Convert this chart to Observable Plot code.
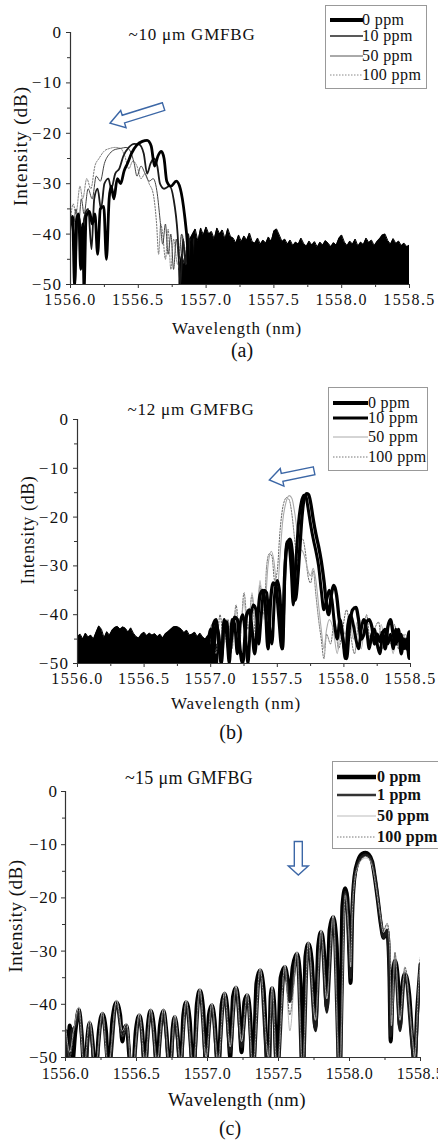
<!DOCTYPE html>
<html><head><meta charset="utf-8">
<script src="https://cdn.jsdelivr.net/npm/d3@7"></script>
<script src="https://cdn.jsdelivr.net/npm/@observablehq/plot@0.6"></script>
<style>
body{margin:0;background:#fff;}
#root{position:relative;width:438px;height:1140px;overflow:hidden;font-family:"Liberation Serif",serif;color:#111;}
.t{position:absolute;white-space:nowrap;line-height:1;transform:translate(-50%,-50%);}
.yl{position:absolute;white-space:nowrap;line-height:1;transform:translate(-50%,-50%) rotate(-90deg);}
.pl{position:absolute;left:0;}
.lg{position:absolute;}
</style></head><body><div id="root"></div>
<script>
// ---------- axes ----------
const xMajor = [1556.0, 1556.5, 1557.0, 1557.5, 1558.0, 1558.5];
const xMinor = [1556.25, 1556.75, 1557.25, 1557.75, 1558.25];
const yMajor = [0, -10, -20, -30, -40, -50];
const yMinor = [-5, -15, -25, -35, -45];
const floorDb = -50;
const noiseStep = 0.02;

// ---------- panel (a) ~10 um GMFBG ----------
const a_0ppm = [[1556.00,-38],[1556.015,-36.5],[1556.03,-50],[1556.045,-37],[1556.06,-36],[1556.075,-47],[1556.09,-38],[1556.10,-51],[1556.115,-36.5],[1556.14,-35.5],[1556.16,-38],[1556.18,-36],[1556.20,-44],[1556.22,-35],[1556.245,-34.5],[1556.265,-45],[1556.285,-33],[1556.30,-30.5],[1556.32,-33],[1556.345,-29],[1556.37,-30],[1556.395,-27.5],[1556.42,-26],[1556.45,-24],[1556.49,-22.3],[1556.53,-21.6],[1556.565,-21.4],[1556.595,-22.5],[1556.62,-26.5],[1556.645,-24.5],[1556.67,-23.6],[1556.69,-25],[1556.71,-29.5],[1556.74,-30.5],[1556.78,-29.5],[1556.81,-31],[1556.84,-36],[1556.865,-43],[1556.88,-51],[1556.895,-42],[1556.91,-50],[1556.925,-41]];
const a_10ppm = [[1556.00,-37],[1556.02,-40],[1556.035,-50],[1556.05,-38],[1556.07,-37],[1556.085,-47],[1556.10,-37],[1556.13,-35],[1556.155,-43],[1556.175,-33],[1556.20,-31],[1556.225,-35],[1556.25,-30],[1556.28,-29],[1556.30,-31],[1556.33,-28],[1556.36,-27],[1556.39,-24.5],[1556.43,-22.8],[1556.47,-22.1],[1556.505,-22.2],[1556.54,-24],[1556.565,-28],[1556.59,-26],[1556.615,-25],[1556.64,-26.5],[1556.66,-30],[1556.69,-31],[1556.73,-30.5],[1556.76,-33],[1556.79,-40],[1556.81,-50],[1556.83,-41],[1556.85,-46],[1556.87,-40],[1556.89,-48],[1556.91,-41]];
const a_50ppm = [[1556.00,-36],[1556.02,-39],[1556.04,-35],[1556.06,-38],[1556.08,-33],[1556.10,-36],[1556.13,-31],[1556.16,-33],[1556.19,-28.5],[1556.22,-29.5],[1556.25,-26],[1556.29,-24],[1556.33,-23.2],[1556.37,-23],[1556.41,-22.8],[1556.44,-23.5],[1556.47,-26],[1556.49,-28.5],[1556.52,-26.5],[1556.55,-28],[1556.58,-29.5],[1556.61,-29],[1556.64,-32],[1556.66,-37],[1556.68,-42],[1556.70,-38],[1556.72,-44],[1556.74,-40],[1556.76,-47],[1556.78,-41],[1556.80,-45],[1556.82,-40],[1556.85,-46],[1556.88,-41]];
const a_100ppm = [[1556.00,-37],[1556.02,-34],[1556.04,-36],[1556.07,-30.5],[1556.09,-33],[1556.12,-29],[1556.15,-31],[1556.18,-26.5],[1556.21,-25],[1556.25,-23.5],[1556.29,-23],[1556.33,-22.8],[1556.37,-23],[1556.40,-24.5],[1556.43,-27],[1556.46,-25.5],[1556.49,-26.5],[1556.52,-29],[1556.55,-28],[1556.58,-30],[1556.61,-32],[1556.635,-38],[1556.65,-44],[1556.665,-38],[1556.68,-40],[1556.70,-45],[1556.72,-39],[1556.74,-47],[1556.76,-41],[1556.79,-46],[1556.82,-40],[1556.85,-44]];
const a_noiseStart = 1556.80;
const a_noiseTop = [-47,-44,-46,-42.5,-41,-40,-39,-41.5,-38.8,-40.2,-38.6,-40,-39.5,-41,-38.8,-40,-39.2,-41,-38.9,-40.5,-40.8,-41.8,-40.2,-41.5,-40.4,-41.2,-39.8,-41.5,-41.8,-40.8,-42,-41.2,-41.8,-40.6,-41.5,-39.4,-39,-40.2,-41.5,-41,-42,-41.2,-42.3,-41.6,-42,-40.8,-41.9,-42.4,-41.4,-42.2,-41.5,-42.6,-41.6,-42.2,-41.3,-41.8,-42.5,-41.7,-42.2,-40.8,-40.2,-41.6,-42.3,-41.4,-42,-41,-42.4,-41.6,-42.1,-40.8,-41.7,-41.2,-42.3,-41.5,-40.9,-40.2,-40,-41.3,-42,-40.9,-41.9,-41.4,-42.3,-41.8,-42.5,-42.2];
const a_arrow = [{x1: 1556.69, y1: -14.8, x2: 1556.295, y2: -18.1}];

// ---------- panel (b) ~12 um GMFBG ----------
const b_0ppm = [[1556.98,-45],[1557.00,-49],[1557.02,-42],[1557.04,-41],[1557.06,-46],[1557.08,-50],[1557.10,-42],[1557.12,-41.5],[1557.14,-48],[1557.16,-44],[1557.18,-40.5],[1557.20,-41],[1557.22,-47],[1557.24,-50],[1557.27,-40],[1557.29,-39],[1557.31,-43],[1557.33,-48],[1557.35,-42],[1557.37,-36],[1557.39,-35],[1557.41,-38],[1557.43,-47],[1557.45,-37],[1557.47,-33.5],[1557.49,-34],[1557.51,-40],[1557.535,-47],[1557.555,-32],[1557.575,-25.5],[1557.595,-24.5],[1557.615,-28],[1557.635,-37],[1557.655,-32],[1557.67,-26],[1557.685,-20],[1557.70,-16.5],[1557.72,-15.2],[1557.735,-15.4],[1557.75,-17],[1557.77,-20.5],[1557.79,-23.5],[1557.81,-26],[1557.83,-29],[1557.85,-33],[1557.87,-38],[1557.885,-40],[1557.905,-36],[1557.925,-34],[1557.945,-36],[1557.965,-41],[1557.985,-44],[1558.005,-47],[1558.02,-49],[1558.04,-43],[1558.065,-39],[1558.09,-38.5],[1558.11,-41],[1558.13,-45],[1558.15,-44],[1558.17,-41.5],[1558.19,-41],[1558.21,-42.5],[1558.23,-46],[1558.25,-44],[1558.27,-45.5],[1558.29,-43.5],[1558.31,-47],[1558.33,-42.5],[1558.35,-41],[1558.37,-44],[1558.39,-46],[1558.41,-43],[1558.43,-48],[1558.45,-45],[1558.47,-47],[1558.49,-43.5],[1558.50,-46]];
const b_10ppm = [[1556.98,-46],[1557.00,-43],[1557.02,-48],[1557.04,-42],[1557.06,-44],[1557.08,-49],[1557.10,-41],[1557.12,-44],[1557.14,-50],[1557.16,-41],[1557.18,-42],[1557.20,-48],[1557.22,-42],[1557.24,-40],[1557.26,-44],[1557.28,-50],[1557.30,-41],[1557.32,-38],[1557.34,-39],[1557.36,-46],[1557.38,-40],[1557.40,-35],[1557.42,-35.5],[1557.44,-42],[1557.46,-46],[1557.48,-36],[1557.50,-33],[1557.52,-36],[1557.54,-47],[1557.56,-29],[1557.575,-25],[1557.59,-26],[1557.605,-31],[1557.62,-38],[1557.64,-29],[1557.66,-21],[1557.68,-17],[1557.70,-15.5],[1557.715,-15.8],[1557.73,-18],[1557.75,-21.5],[1557.77,-24.5],[1557.79,-27],[1557.81,-30],[1557.83,-35],[1557.85,-39],[1557.87,-37],[1557.89,-35],[1557.91,-37],[1557.93,-42],[1557.95,-45],[1557.97,-41],[1557.99,-44],[1558.01,-49],[1558.03,-42],[1558.05,-40],[1558.07,-42],[1558.09,-45],[1558.11,-47],[1558.13,-43],[1558.15,-41],[1558.17,-43],[1558.19,-47],[1558.21,-44],[1558.23,-43],[1558.25,-46],[1558.27,-48],[1558.29,-44],[1558.31,-43],[1558.33,-46],[1558.35,-44],[1558.37,-47],[1558.39,-43],[1558.41,-45],[1558.43,-44],[1558.45,-47],[1558.47,-45],[1558.49,-49],[1558.50,-46]];
const b_50ppm = [[1556.98,-44],[1557.02,-47],[1557.05,-42],[1557.09,-48],[1557.12,-41],[1557.16,-46],[1557.19,-39],[1557.22,-44],[1557.25,-37],[1557.28,-45],[1557.31,-35.5],[1557.34,-43],[1557.37,-33],[1557.40,-41],[1557.43,-30],[1557.455,-27],[1557.475,-29],[1557.50,-35],[1557.52,-28],[1557.54,-21],[1557.565,-17],[1557.59,-15.6],[1557.61,-16.2],[1557.63,-19],[1557.65,-23],[1557.67,-26.5],[1557.69,-27],[1557.71,-28.5],[1557.73,-31],[1557.75,-32],[1557.77,-30.5],[1557.79,-33],[1557.81,-38],[1557.83,-43],[1557.85,-47],[1557.87,-43],[1557.89,-41],[1557.92,-43],[1557.95,-48],[1557.98,-42],[1558.01,-44],[1558.04,-40],[1558.07,-45],[1558.10,-41.5],[1558.13,-47],[1558.16,-42],[1558.19,-45],[1558.22,-43],[1558.25,-47],[1558.28,-42],[1558.31,-46],[1558.34,-44],[1558.37,-48],[1558.40,-43],[1558.43,-46],[1558.46,-44],[1558.50,-47]];
const b_100ppm = [[1556.98,-46],[1557.01,-42],[1557.04,-48],[1557.07,-40],[1557.10,-46],[1557.13,-41],[1557.16,-47],[1557.19,-38],[1557.22,-45],[1557.25,-35.5],[1557.28,-43],[1557.31,-36],[1557.34,-45],[1557.37,-34],[1557.40,-40],[1557.42,-30],[1557.44,-27.5],[1557.46,-28],[1557.48,-33],[1557.50,-31],[1557.52,-23],[1557.545,-17.5],[1557.57,-16],[1557.59,-16.5],[1557.61,-19.5],[1557.63,-24.5],[1557.65,-29],[1557.67,-25],[1557.69,-24.5],[1557.71,-27],[1557.73,-32],[1557.75,-33.5],[1557.77,-31],[1557.79,-36],[1557.81,-41],[1557.83,-45],[1557.85,-49],[1557.87,-44],[1557.90,-46],[1557.93,-41],[1557.96,-47],[1557.99,-43],[1558.02,-39],[1558.05,-44],[1558.08,-48],[1558.11,-42],[1558.14,-45],[1558.17,-40],[1558.20,-46],[1558.23,-43],[1558.26,-41.5],[1558.29,-47],[1558.32,-43],[1558.35,-46],[1558.38,-42],[1558.41,-47],[1558.44,-44],[1558.47,-45],[1558.50,-43]];
const b_noiseStart = 1556.00;
const b_noiseTop = [-44.5,-44,-45,-43.8,-44.6,-44.2,-45,-43.6,-42.3,-43,-44.8,-43.5,-44.2,-43.2,-42.6,-42.4,-43,-42.5,-42.8,-43.6,-42.7,-43.8,-44.5,-44.8,-44,-43.6,-44.3,-43.8,-44.2,-43.9,-44.5,-44,-44.8,-43.9,-43.5,-43,-42.5,-42.4,-42.6,-43,-43.7,-43.2,-44.2,-44,-43.6,-44.5,-43.8,-44.6,-45,-44.2,-45.5,-45,-46,-47];
const b_arrow = [{x1: 1557.78, y1: -10.6, x2: 1557.444, y2: -12.5}];

// ---------- panel (c) ~15 um GMFBG ----------
const c_0ppm = [[1556.00,-45],[1556.015,-50],[1556.03,-44],[1556.045,-52],[1556.07,-45],[1556.094,-41],[1556.115,-46],[1556.135,-54],[1556.155,-46],[1556.17,-43.5],[1556.19,-47],[1556.21,-54],[1556.235,-45],[1556.26,-41.8],[1556.285,-45],[1556.305,-54],[1556.33,-43],[1556.36,-39.6],[1556.385,-42],[1556.40,-47],[1556.415,-44.5],[1556.43,-44],[1556.45,-50],[1556.47,-55],[1556.495,-45],[1556.52,-42.1],[1556.54,-45],[1556.56,-53],[1556.58,-44],[1556.60,-41.2],[1556.625,-45],[1556.645,-53],[1556.665,-44],[1556.69,-41.2],[1556.71,-45],[1556.735,-54],[1556.755,-44.5],[1556.77,-42.4],[1556.79,-46],[1556.81,-53],[1556.83,-42],[1556.85,-39.6],[1556.875,-43],[1556.90,-54],[1556.925,-40],[1556.946,-37.4],[1556.97,-41],[1556.99,-52],[1557.01,-42],[1557.03,-40.2],[1557.05,-43],[1557.075,-53],[1557.10,-40],[1557.12,-38],[1557.14,-41],[1557.16,-50],[1557.18,-38.5],[1557.20,-36.9],[1557.22,-40],[1557.24,-49],[1557.26,-39.5],[1557.28,-38.3],[1557.30,-42],[1557.32,-54],[1557.345,-36],[1557.37,-33.6],[1557.395,-37],[1557.43,-55],[1557.445,-38.5],[1557.455,-37],[1557.47,-40],[1557.49,-55],[1557.515,-35],[1557.545,-33],[1557.565,-35.5],[1557.58,-38.7],[1557.60,-33],[1557.63,-30.5],[1557.655,-36],[1557.67,-56],[1557.69,-31],[1557.71,-28.6],[1557.735,-32],[1557.76,-44.3],[1557.78,-29],[1557.80,-26.4],[1557.82,-30],[1557.84,-40.5],[1557.86,-26],[1557.885,-23.6],[1557.91,-29],[1557.93,-56],[1557.95,-21.5],[1557.97,-18.2],[1557.985,-20],[1557.998,-30],[1558.008,-36],[1558.018,-24],[1558.035,-16],[1558.06,-13],[1558.09,-11.7],[1558.113,-11.5],[1558.135,-11.8],[1558.16,-13.2],[1558.18,-16.5],[1558.20,-20.5],[1558.22,-24.8],[1558.24,-27.5],[1558.265,-26.2],[1558.28,-33],[1558.29,-47],[1558.305,-35],[1558.32,-31.8],[1558.34,-35],[1558.355,-44],[1558.37,-37],[1558.39,-34.3],[1558.42,-38],[1558.445,-48],[1558.458,-52],[1558.475,-42],[1558.49,-36],[1558.50,-32.5]];
const c_1ppm = [[1556.00,-46],[1556.02,-51],[1556.045,-45],[1556.07,-44],[1556.094,-41.5],[1556.12,-48],[1556.14,-53],[1556.17,-44],[1556.21,-53],[1556.26,-42.3],[1556.305,-53],[1556.36,-40.2],[1556.40,-46],[1556.43,-44.5],[1556.47,-54],[1556.52,-42.6],[1556.56,-52],[1556.60,-41.8],[1556.645,-52],[1556.69,-41.8],[1556.735,-53],[1556.77,-43],[1556.81,-52],[1556.85,-40.2],[1556.90,-53],[1556.946,-38],[1556.99,-51],[1557.03,-40.8],[1557.075,-52],[1557.12,-38.6],[1557.16,-49],[1557.20,-37.5],[1557.24,-48],[1557.28,-38.9],[1557.32,-53],[1557.37,-34.2],[1557.43,-54],[1557.455,-37.6],[1557.49,-54],[1557.545,-33.6],[1557.58,-39.5],[1557.63,-31.1],[1557.67,-55],[1557.71,-29.2],[1557.76,-45],[1557.80,-27],[1557.84,-41.5],[1557.885,-24.2],[1557.93,-55],[1557.97,-18.9],[1557.998,-30],[1558.008,-35],[1558.018,-24],[1558.035,-16.5],[1558.06,-13.5],[1558.09,-12.2],[1558.113,-11.9],[1558.14,-12.3],[1558.165,-14],[1558.19,-18],[1558.215,-23.5],[1558.24,-27.5],[1558.265,-26],[1558.28,-34],[1558.29,-46],[1558.32,-32.2],[1558.355,-45],[1558.39,-34.8],[1558.445,-49],[1558.458,-51],[1558.49,-37],[1558.50,-33.5]];
const c_50ppm = [[1556.00,-44],[1556.03,-49],[1556.06,-44.5],[1556.094,-40.5],[1556.13,-52],[1556.17,-43],[1556.21,-52],[1556.26,-41.4],[1556.30,-52],[1556.36,-39.2],[1556.40,-45],[1556.43,-43.6],[1556.47,-53],[1556.52,-41.7],[1556.56,-51],[1556.60,-40.8],[1556.645,-51],[1556.69,-40.8],[1556.735,-52],[1556.77,-42],[1556.81,-51],[1556.85,-39.2],[1556.90,-52],[1556.946,-37],[1556.99,-50],[1557.03,-39.8],[1557.075,-51],[1557.12,-37.6],[1557.16,-48],[1557.20,-36.5],[1557.24,-47],[1557.28,-37.9],[1557.32,-52],[1557.37,-33.2],[1557.43,-50],[1557.455,-36.6],[1557.49,-53],[1557.545,-32.6],[1557.58,-45],[1557.63,-30.1],[1557.67,-52],[1557.71,-28.2],[1557.76,-43],[1557.80,-26],[1557.84,-39],[1557.885,-23.2],[1557.93,-53],[1557.97,-19.5],[1557.998,-28],[1558.008,-33],[1558.018,-24],[1558.035,-17],[1558.06,-14],[1558.09,-12.8],[1558.113,-12.5],[1558.14,-12.8],[1558.165,-14.5],[1558.19,-18.5],[1558.215,-23],[1558.24,-26.5],[1558.265,-25],[1558.285,-30],[1558.295,-44],[1558.32,-30.5],[1558.355,-43],[1558.39,-33.5],[1558.445,-47],[1558.458,-50],[1558.49,-35],[1558.50,-32]];
const c_100ppm = [[1556.00,-45],[1556.03,-50],[1556.06,-45],[1556.094,-41.2],[1556.13,-51],[1556.17,-43.8],[1556.21,-52],[1556.26,-42],[1556.30,-51],[1556.36,-40],[1556.40,-46],[1556.43,-44.2],[1556.47,-52],[1556.52,-42.4],[1556.56,-50],[1556.60,-41.5],[1556.645,-50],[1556.69,-41.5],[1556.735,-51],[1556.77,-42.7],[1556.81,-50],[1556.85,-39.9],[1556.90,-51],[1556.946,-37.7],[1556.99,-49],[1557.03,-40.5],[1557.075,-50],[1557.12,-38.3],[1557.16,-47],[1557.20,-37.2],[1557.24,-46],[1557.28,-38.6],[1557.32,-51],[1557.37,-33.9],[1557.43,-49],[1557.455,-37.3],[1557.49,-51],[1557.545,-33.3],[1557.58,-42],[1557.63,-30.8],[1557.67,-51],[1557.71,-28.9],[1557.76,-42],[1557.80,-26.7],[1557.84,-38],[1557.885,-23.9],[1557.93,-51],[1557.97,-19.2],[1557.998,-27],[1558.008,-32],[1558.018,-23],[1558.035,-16.8],[1558.06,-13.8],[1558.09,-12.5],[1558.113,-12.2],[1558.14,-12.5],[1558.165,-14.2],[1558.19,-18],[1558.215,-22.5],[1558.24,-26],[1558.265,-24.8],[1558.285,-29],[1558.295,-42],[1558.32,-30.2],[1558.355,-42],[1558.39,-33],[1558.445,-46],[1558.458,-49],[1558.49,-34],[1558.50,-31]];
const c_arrow = [{x1: 1557.643, y1: -9.5, x2: 1557.643, y2: -15.8}];

// ---------- helpers ----------
const SVGNS = "http://www.w3.org/2000/svg";
const fmtY = d => d === 0 ? "0" : "\u2212" + Math.abs(d);
const fmtX = d => d.toFixed(1);

function blockArrows(list, shaft, head, headLen) {
  return (index, scales) => {
    const sx = typeof scales.x === "function" ? scales.x : (v => scales.scales.x.apply(v));
    const sy = typeof scales.y === "function" ? scales.y : (v => scales.scales.y.apply(v));
    const g = document.createElementNS(SVGNS, "g");
    for (const a of list) {
      const x1 = sx(a.x1), y1 = sy(a.y1), x2 = sx(a.x2), y2 = sy(a.y2);
      const dx = x2 - x1, dy = y2 - y1, L = Math.hypot(dx, dy);
      const ux = dx / L, uy = dy / L, nx = -uy, ny = ux;
      const bx = x2 - ux * headLen, by = y2 - uy * headLen;
      const pts = [
        [x1 + nx * shaft, y1 + ny * shaft], [bx + nx * shaft, by + ny * shaft], [bx + nx * head, by + ny * head],
        [x2, y2], [bx - nx * head, by - ny * head], [bx - nx * shaft, by - ny * shaft], [x1 - nx * shaft, y1 - ny * shaft]
      ];
      const p = document.createElementNS(SVGNS, "polygon");
      p.setAttribute("points", pts.map(q => q.join(",")).join(" "));
      p.setAttribute("fill", "white");
      p.setAttribute("stroke", "#3c67a6");
      p.setAttribute("stroke-width", "1.4");
      g.appendChild(p);
    }
    return g;
  };
}

function axes(tf) {
  return [
    Plot.axisX({ticks: xMinor, tickSize: 3, tickFormat: () => "", label: null, stroke: "#333"}),
    Plot.axisX({ticks: xMajor, tickSize: 4, tickPadding: tf.xp, tickFormat: fmtX, label: null, stroke: "#333", fontSize: tf.x}),
    Plot.axisY({ticks: yMinor, tickSize: 3, tickFormat: () => "", label: null, stroke: "#333"}),
    Plot.axisY({ticks: yMajor, tickSize: 4, tickPadding: 4, tickFormat: fmtY, label: null, stroke: "#333", fontSize: tf.y}),
    Plot.ruleX([1556], {stroke: "#333", strokeWidth: 1.2}),
    Plot.ruleY([floorDb], {stroke: "#333", strokeWidth: 1.2})
  ];
}
function ln(data, stroke, width, dash) {
  return Plot.line(data, {x: d => d[0], y: d => d[1], stroke, strokeWidth: width, strokeDasharray: dash, curve: "monotone-x", clip: true, strokeLinejoin: "round"});
}
function band(tops, start) {
  return [
    Plot.areaY(tops, {x: (d, i) => start + i * noiseStep, y1: () => floorDb - 2, y2: d => d, fill: "#000", clip: true}),
    Plot.line(tops, {x: (d, i) => start + i * noiseStep, y: d => d, stroke: "#000", strokeWidth: 1, clip: true})
  ];
}
function makePlot(o, marks) {
  const svg = Plot.plot({
    width: 438, height: o.h, marginLeft: o.ml, marginRight: o.mr, marginTop: o.mt, marginBottom: o.mb,
    x: {domain: [1556, 1558.5]}, y: {domain: [-50, 0]},
    style: {fontFamily: '"Liberation Serif", serif', fontSize: "16px", letterSpacing: o.ls, color: "#111", background: "transparent", overflow: "visible"},
    marks: [...marks, ...axes(o.tf)]
  });
  svg.classList.add("pl");
  svg.style.top = o.top + "px";
  return svg;
}
const root = document.getElementById("root");
function text(str, x, y, size, cls = "t", extra = "") {
  const d = document.createElement("div");
  d.className = cls;
  d.textContent = str;
  d.style.cssText += `left:${x}px;top:${y}px;font-size:${size}px;${extra}`;
  root.appendChild(d);
}
function legend(o, entries) {
  const svg = document.createElementNS(SVGNS, "svg");
  svg.setAttribute("width", o.w + 2); svg.setAttribute("height", o.h + 2);
  svg.setAttribute("class", "lg");
  svg.style.left = o.left + "px"; svg.style.top = o.top + "px";
  const r = document.createElementNS(SVGNS, "rect");
  r.setAttribute("x", 0.5); r.setAttribute("y", 0.5); r.setAttribute("width", o.w); r.setAttribute("height", o.h);
  r.setAttribute("fill", "white"); r.setAttribute("stroke", "#999");
  svg.appendChild(r);
  entries.forEach((e, i) => {
    const l = document.createElementNS(SVGNS, "line");
    l.setAttribute("x1", o.lx1); l.setAttribute("x2", o.lx2); l.setAttribute("y1", o.ys[i]); l.setAttribute("y2", o.ys[i]);
    l.setAttribute("stroke", e.stroke); l.setAttribute("stroke-width", e.w);
    if (e.dash) l.setAttribute("stroke-dasharray", e.dash);
    svg.appendChild(l);
    const t = document.createElementNS(SVGNS, "text");
    t.setAttribute("x", o.tx); t.setAttribute("y", o.ys[i]); t.setAttribute("dy", "0.32em");
    t.setAttribute("font-family", '"Liberation Serif", serif'); t.setAttribute("font-size", o.fs);
    if (o.bold) t.setAttribute("font-weight", "bold");
    t.setAttribute("letter-spacing", o.ls || "0.6px");
    t.setAttribute("fill", "#111");
    t.textContent = e.label;
    svg.appendChild(t);
  });
  root.appendChild(svg);
}

// ---------- panel (a) ----------
root.appendChild(makePlot({top: 0, h: 310, ml: 70, mr: 29, mt: 32, mb: 26, ls: "1.4px", tf: {x: 16, y: 17, xp: 5}}, [
  ...band(a_noiseTop, a_noiseStart),
  ln(a_100ppm, "#777", 1, "1.5,1.5"),
  ln(a_50ppm, "#444", 1),
  ln(a_10ppm, "#1a1a1a", 1.8),
  ln(a_0ppm, "#000", 2.8),
  blockArrows(a_arrow, 4, 9, 14)
]));
text("~10 \u03bcm GMFBG", 192, 34, 17, "t", "letter-spacing:0.8px");
text("Intensity (dB)", 20, 146, 19, "yl", "letter-spacing:1px");
text("Wavelength (nm)", 237, 328, 17, "t", "letter-spacing:0.8px");
text("(a)", 242, 350, 20);
legend({left: 325, top: 5, w: 101, h: 83, lx1: 5, lx2: 38, tx: 37, ys: [15, 31, 51, 70], fs: 16, ls: "0.4px"}, [
  {label: "0 ppm", stroke: "#000", w: 4},
  {label: "10 ppm", stroke: "#222", w: 1.6},
  {label: "50 ppm", stroke: "#555", w: 1},
  {label: "100 ppm", stroke: "#888", w: 1, dash: "1.5,1.5"}
]);

// ---------- panel (b) ----------
root.appendChild(makePlot({top: 380, h: 310, ml: 77, mr: 28, mt: 39, mb: 27, ls: "1.4px", tf: {x: 16, y: 17, xp: 5}}, [
  ...band(b_noiseTop, b_noiseStart),
  ln(b_100ppm, "#666", 1, "1.5,1.5"),
  ln(b_50ppm, "#aaa", 1.1),
  ln(b_10ppm, "#000", 3.0),
  ln(b_0ppm, "#000", 3.3),
  blockArrows(b_arrow, 4, 9, 13)
]));
text("~12 \u03bcm GMFBG", 191, 409, 17, "t", "letter-spacing:0.8px");
text("Intensity (dB)", 28, 530, 18, "yl", "letter-spacing:0.6px");
text("Wavelength (nm)", 236, 703, 17, "t", "letter-spacing:0.8px");
text("(b)", 231, 732, 20);
legend({left: 328, top: 387, w: 99, h: 83, lx1: 5, lx2: 40, tx: 40, ys: [16, 31, 50, 70], fs: 16, ls: "0.3px"}, [
  {label: "0 ppm", stroke: "#000", w: 4},
  {label: "10 ppm", stroke: "#000", w: 3},
  {label: "50 ppm", stroke: "#aaa", w: 1},
  {label: "100 ppm", stroke: "#777", w: 1, dash: "1.5,1.5"}
]);

// ---------- panel (c) ----------
root.appendChild(makePlot({top: 760, h: 320, ml: 65, mr: 18, mt: 31, mb: 23, ls: "0.6px", tf: {x: 16, y: 17, xp: 6}}, [
  ln(c_0ppm, "#000", 4),
  ln(c_1ppm, "#1a1a1a", 2.8),
  ln(c_50ppm, "#bbb", 1),
  ln(c_100ppm, "#555", 1, "1.5,1.5"),
  blockArrows(c_arrow, 4, 10, 9)
]));
text("~15 \u03bcm GMFBG", 189, 778, 18, "t", "letter-spacing:0.3px");
text("Intensity (dB)", 15, 916, 19, "yl", "letter-spacing:0.5px");
text("Wavelength (nm)", 237, 1099, 19, "t", "letter-spacing:0.4px");
text("(c)", 230, 1128, 20);
legend({left: 332, top: 761, w: 120, h: 87, lx1: 5, lx2: 44, tx: 45, ys: [16, 34, 55, 76], fs: 16, bold: true, ls: "0.2px"}, [
  {label: "0 ppm", stroke: "#000", w: 4.5},
  {label: "1 ppm", stroke: "#333", w: 2.5},
  {label: "50 ppm", stroke: "#bbb", w: 1},
  {label: "100 ppm", stroke: "#777", w: 1, dash: "1.5,1.5"}
]);
</script></body></html>
